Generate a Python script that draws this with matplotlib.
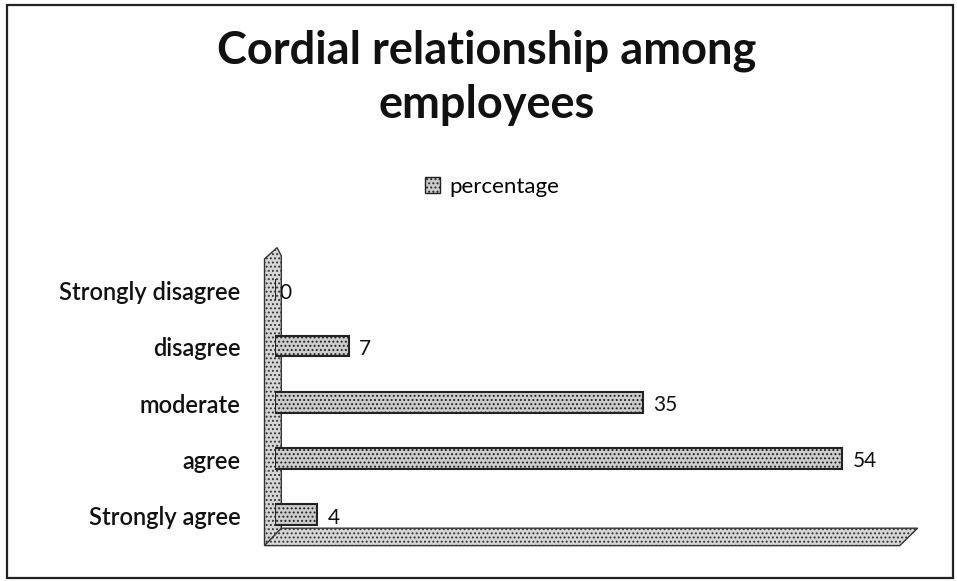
import matplotlib.pyplot as plt
from matplotlib.patches import Polygon, Patch, Rectangle

categories = ["Strongly agree", "agree", "moderate", "disagree", "Strongly disagree"]
percentage = [4, 54, 35, 7, 0]

TITLE_LINES = ["Cordial relationship among", "employees"]
SERIES = "percentage"

plt.rcParams["font.family"] = ["Lato", "DejaVu Sans"]
plt.rcParams["hatch.color"] = "#808080"
plt.rcParams["hatch.linewidth"] = 0.9

W, H = 957, 581
fig = plt.figure(figsize=(W / 100, H / 100), dpi=100)
fig.patch.set_facecolor("white")

# outer chart frame
fig.patches.append(Rectangle((7 / W, 3 / H), 946 / W, 573 / H, transform=fig.transFigure,
                             fill=False, edgecolor="#222222", linewidth=1.6))

ax = fig.add_axes([275 / W, 41 / H, 630 / W, 280 / H])
ax.set_xlim(0, 60)
ax.set_ylim(-0.45, 4.53)
ax.axis("off")

ypos = list(range(len(categories)))

# 3D back wall and floor (decoration)
wall = Polygon([(-1.0, -0.55), (-1.0, 4.55), (0.2, 4.75), (0.6, 4.6), (0.6, -0.3)], closed=True,
               facecolor="#d6d6d6", edgecolor="#333333", linewidth=1.0, hatch="....", clip_on=False)
floor = Polygon([(-1.0, -0.55), (59.5, -0.55), (61.2, -0.24), (0.6, -0.24)], closed=True,
                facecolor="#d6d6d6", edgecolor="#333333", linewidth=1.0, hatch="....", clip_on=False)
ax.add_patch(wall)
ax.add_patch(floor)

ax.barh(ypos, percentage, height=0.37, left=0.0, color="#cccccc", edgecolor="#222222",
        linewidth=1.5, hatch="....", zorder=3)

for y, v in zip(ypos, percentage):
    off = 1.0 if v > 0 else 0.4
    ax.text(v + off, y - 0.05, f"{v}", va="center", ha="left", fontsize=15, color="#111111")

for y, c in zip(ypos, categories):
    ax.text(-3.3, y - 0.05, c, va="center", ha="right", fontsize=17, fontweight=600, color="#111111")

fig.text(487 / W, 1 - 63 / H, TITLE_LINES[0], ha="center", va="baseline", fontsize=32.5,
         fontweight="bold", color="#111111")
fig.text(487 / W, 1 - 118 / H, TITLE_LINES[1], ha="center", va="baseline", fontsize=32.5,
         fontweight="bold", color="#111111")

fig.legend(handles=[Patch(facecolor="#cccccc", edgecolor="#222222", hatch="....", label=SERIES)],
           loc="center", bbox_to_anchor=(492 / W, 1 - 187 / H), frameon=False, fontsize=16,
           handlelength=0.7, handleheight=0.7, handletextpad=0.4)

fig.savefig("out.png", dpi=100)
